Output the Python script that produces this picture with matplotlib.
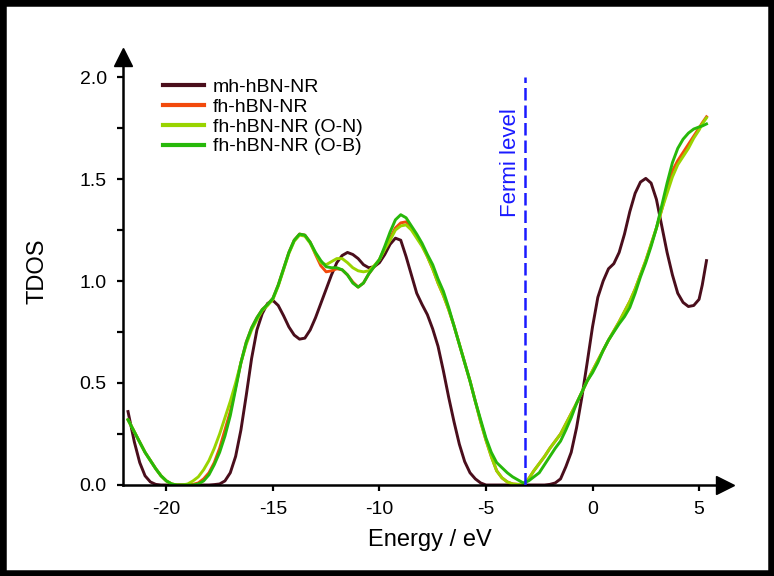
import matplotlib
matplotlib.use("Agg")
import matplotlib.pyplot as plt
from matplotlib.patches import Rectangle
from matplotlib.ticker import MultipleLocator, FormatStrFormatter

plt.rcParams['font.family'] = ['Liberation Sans', 'DejaVu Sans']
plt.rcParams['axes.unicode_minus'] = False

energy = [-21.8, -21.5, -21.25,
          -21.0, -20.75, -20.5, -20.25,
          -20.0, -19.75, -19.5, -19.25,
          -19.0, -18.75, -18.5, -18.25,
          -18.0, -17.75, -17.5, -17.25,
          -17.0, -16.75, -16.5, -16.25,
          -16.0, -15.75, -15.5, -15.25,
          -15.0, -14.75, -14.5, -14.25,
          -14.0, -13.75, -13.5, -13.25,
          -13.0, -12.75, -12.5, -12.25,
          -12.0, -11.75, -11.5, -11.25,
          -11.0, -10.75, -10.5, -10.25,
          -10.0, -9.75, -9.5, -9.25,
          -9.0, -8.75, -8.5, -8.25,
          -8.0, -7.75, -7.5, -7.25,
          -7.0, -6.75, -6.5, -6.25,
          -6.0, -5.75, -5.5, -5.25,
          -5.0, -4.75, -4.5, -4.25,
          -4.0, -3.75, -3.5, -3.25,
          -3.0, -2.75, -2.5, -2.25,
          -2.0, -1.75, -1.5, -1.25,
          -1.0, -0.75, -0.5, -0.25,
          0.0, 0.25, 0.5, 0.75,
          1.0, 1.25, 1.5, 1.75,
          2.0, 2.25, 2.5, 2.75,
          3.0, 3.25, 3.5, 3.75,
          4.0, 4.25, 4.5, 4.75,
          5.0, 5.15, 5.35]

mh_hbn = [0.36, 0.21, 0.11,
          0.045, 0.015, 0.003, 0.0,
          0.0, 0.0, 0.0, 0.0,
          0.0, 0.0, 0.0, 0.0,
          0.0, 0.002, 0.005, 0.02,
          0.06, 0.14, 0.27, 0.44,
          0.62, 0.76, 0.84, 0.89,
          0.905, 0.88, 0.83, 0.775,
          0.735, 0.715, 0.72, 0.76,
          0.82, 0.89, 0.96, 1.03,
          1.09, 1.125, 1.14, 1.13,
          1.11, 1.08, 1.065, 1.07,
          1.09, 1.13, 1.18, 1.21,
          1.20, 1.12, 1.03, 0.94,
          0.885, 0.835, 0.765, 0.68,
          0.56, 0.43, 0.31, 0.20,
          0.115, 0.06, 0.03, 0.01,
          0.0, 0.0, 0.0, 0.0,
          0.0, 0.0, 0.0, 0.0,
          0.0, 0.0, 0.0, 0.0,
          0.003, 0.01, 0.03, 0.09,
          0.16, 0.28, 0.43, 0.60,
          0.775, 0.92, 1.0, 1.06,
          1.085, 1.14, 1.23, 1.34,
          1.43, 1.485, 1.503, 1.48,
          1.40, 1.27, 1.14, 1.03,
          0.94, 0.895, 0.875, 0.88,
          0.91, 0.98, 1.10]

fh_hbn = [0.32, 0.26, 0.21,
          0.16, 0.12, 0.08, 0.045,
          0.02, 0.005, 0.0, 0.0,
          0.0, 0.003, 0.01, 0.03,
          0.06, 0.11, 0.18, 0.27,
          0.36, 0.48, 0.60, 0.70,
          0.77, 0.82, 0.86, 0.885,
          0.915, 0.98, 1.06, 1.14,
          1.20, 1.23, 1.225, 1.19,
          1.13, 1.075, 1.045, 1.05,
          1.06, 1.055, 1.03, 0.995,
          0.97, 0.99, 1.035, 1.07,
          1.105, 1.16, 1.21, 1.26,
          1.285, 1.29, 1.26, 1.22,
          1.175, 1.12, 1.06, 0.99,
          0.93, 0.86, 0.78, 0.69,
          0.60, 0.51, 0.41, 0.31,
          0.22, 0.14, 0.07, 0.035,
          0.015, 0.005, 0.003, 0.003,
          0.03, 0.07, 0.105, 0.14,
          0.18, 0.215, 0.25, 0.30,
          0.35, 0.40, 0.455, 0.51,
          0.56, 0.61, 0.66, 0.71,
          0.755, 0.80, 0.85, 0.90,
          0.96, 1.03, 1.10, 1.18,
          1.26, 1.35, 1.45, 1.54,
          1.59, 1.63, 1.67, 1.71,
          1.75, 1.775, 1.805]

fh_on = [0.32, 0.26, 0.21,
         0.16, 0.12, 0.08, 0.045,
         0.02, 0.005, 0.0, 0.0,
         0.005, 0.02, 0.04, 0.075,
         0.12, 0.18, 0.25, 0.33,
         0.41, 0.50, 0.60, 0.69,
         0.76, 0.81, 0.855, 0.88,
         0.91, 0.975, 1.055, 1.135,
         1.195, 1.225, 1.22, 1.185,
         1.135, 1.09, 1.08, 1.095,
         1.11, 1.11, 1.09, 1.065,
         1.05, 1.045, 1.05, 1.075,
         1.105, 1.155, 1.20, 1.25,
         1.27, 1.275, 1.25, 1.21,
         1.17, 1.12, 1.06, 0.99,
         0.93, 0.86, 0.78, 0.69,
         0.60, 0.51, 0.41, 0.31,
         0.22, 0.14, 0.07, 0.035,
         0.015, 0.005, 0.003, 0.003,
         0.03, 0.07, 0.105, 0.14,
         0.18, 0.215, 0.25, 0.30,
         0.35, 0.40, 0.455, 0.51,
         0.56, 0.61, 0.66, 0.71,
         0.755, 0.80, 0.85, 0.90,
         0.96, 1.03, 1.10, 1.18,
         1.26, 1.35, 1.43, 1.51,
         1.57, 1.61, 1.65, 1.70,
         1.74, 1.77, 1.80]

fh_ob = [0.32, 0.26, 0.21,
         0.16, 0.12, 0.08, 0.045,
         0.02, 0.005, 0.0, 0.0,
         0.0, 0.0, 0.005, 0.02,
         0.05, 0.10, 0.16, 0.24,
         0.34, 0.47, 0.60, 0.70,
         0.77, 0.82, 0.86, 0.885,
         0.915, 0.98, 1.06, 1.14,
         1.20, 1.23, 1.225, 1.19,
         1.14, 1.10, 1.07, 1.065,
         1.065, 1.055, 1.03, 0.99,
         0.97, 0.99, 1.035, 1.07,
         1.105, 1.17, 1.24, 1.30,
         1.325, 1.31, 1.27, 1.23,
         1.185, 1.13, 1.08, 1.01,
         0.95, 0.87, 0.78, 0.69,
         0.60, 0.51, 0.41, 0.32,
         0.23, 0.16, 0.11, 0.085,
         0.06, 0.04, 0.025, 0.01,
         0.02, 0.04, 0.06, 0.10,
         0.14, 0.18, 0.215, 0.27,
         0.33, 0.40, 0.455, 0.51,
         0.55, 0.60, 0.66, 0.71,
         0.75, 0.79, 0.825, 0.87,
         0.94, 1.02, 1.09, 1.17,
         1.26, 1.37, 1.48, 1.58,
         1.65, 1.695, 1.725, 1.745,
         1.755, 1.76, 1.77]

labels = ['mh-hBN-NR', 'fh-hBN-NR', 'fh-hBN-NR (O-N)', 'fh-hBN-NR (O-B)']
colors = ['#4a0e1c', '#f24a0c', '#99d400', '#27b80a']
fermi_level = -3.17

fig = plt.figure(figsize=(7.74, 5.76), dpi=100)
ax = fig.add_axes([0.1585, 0.158, 0.7777, 0.7437])

for y, lab, c in zip([mh_hbn, fh_hbn, fh_on, fh_ob], labels, colors):
    ax.plot(energy, y, color=c, lw=2.1, label=lab, solid_joinstyle='round')

ax.plot([fermi_level, fermi_level], [0, 2.0], color='#1a1aff', lw=1.8,
        ls=(0, (5, 2)), zorder=5)
ax.text(fermi_level - 0.7, 1.58, 'Fermi level', rotation=90, color='#1a1aff',
        fontsize=16, ha='center', va='center')

ax.set_xlim(-22.05, 6.2)
ax.set_ylim(0, 2.10)
ax.xaxis.set_major_locator(MultipleLocator(5))
ax.yaxis.set_major_locator(MultipleLocator(0.5))
ax.yaxis.set_minor_locator(MultipleLocator(0.25))
ax.yaxis.set_major_formatter(FormatStrFormatter('%.1f'))

for s in ['top', 'right']:
    ax.spines[s].set_visible(False)
for s in ['left', 'bottom']:
    ax.spines[s].set_linewidth(1.8)

ax.tick_params(axis='both', which='both', direction='out', length=4.5, width=1.6,
               labelsize=14, pad=7)
ax.tick_params(axis='y', which='minor', length=4.5)

ax.plot(1, 0, '>', color='black', ms=13, transform=ax.transAxes, clip_on=False)
ax.plot(0, 1, '^', color='black', ms=13, transform=ax.transAxes, clip_on=False)

ax.set_xlabel('Energy / eV', fontsize=17)
ax.set_ylabel('TDOS', fontsize=17)
ax.xaxis.set_label_coords(0.51, -0.103)
ax.yaxis.set_label_coords(-0.123, 0.5)

leg = ax.legend(loc='upper left', bbox_to_anchor=(163 / 774, 1 - 78 / 576),
                bbox_transform=fig.transFigure, frameon=False, fontsize=14,
                handlelength=2.1, handletextpad=0.45, labelspacing=0.12,
                borderpad=0, borderaxespad=0)
for h in leg.get_lines():
    h.set_linewidth(3.0)

fig.patches.append(Rectangle((0, 0), 1, 1, transform=fig.transFigure, fill=False,
                             lw=9, edgecolor='black'))

fig.savefig('out.png', dpi=100)
